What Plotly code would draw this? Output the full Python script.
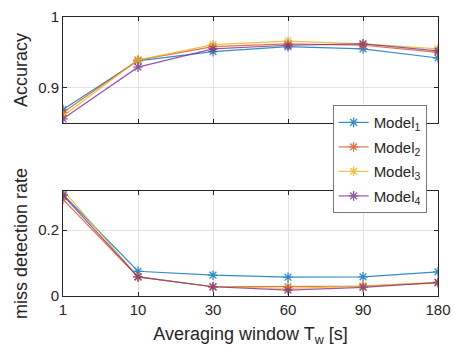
import plotly.graph_objects as go

windows = ["1", "10", "30", "60", "90", "180"]
models = ["Model<sub>1</sub>", "Model<sub>2</sub>", "Model<sub>3</sub>", "Model<sub>4</sub>"]
colors = ["#0072BD", "#D95319", "#EDB120", "#7E2F8E"]

acc_m1 = [0.869, 0.938, 0.951, 0.958, 0.955, 0.942]
acc_m2 = [0.865, 0.939, 0.958, 0.962, 0.960, 0.950]
acc_m3 = [0.860, 0.939, 0.961, 0.966, 0.962, 0.955]
acc_m4 = [0.856, 0.929, 0.955, 0.960, 0.962, 0.952]

mdr_m1 = [0.308, 0.075, 0.063, 0.057, 0.058, 0.073]
mdr_m2 = [0.293, 0.058, 0.028, 0.028, 0.030, 0.040]
mdr_m3 = [0.321, 0.058, 0.028, 0.023, 0.030, 0.042]
mdr_m4 = [0.305, 0.058, 0.028, 0.018, 0.026, 0.041]

acc = [acc_m1, acc_m2, acc_m3, acc_m4]
mdr = [mdr_m1, mdr_m2, mdr_m3, mdr_m4]

xpos = list(range(len(windows)))
FONT = "Arial"

fig = go.Figure()
for i in range(4):
    mk = dict(symbol="asterisk", size=8, color=colors[i], line=dict(color=colors[i], width=1.3))
    fig.add_trace(go.Scatter(x=xpos, y=acc[i], mode="lines+markers", name=models[i],
                             legendgroup=f"g{i}",
                             line=dict(color=colors[i], width=1.2), marker=mk,
                             xaxis="x", yaxis="y", opacity=0.8))
for i in range(4):
    mk = dict(symbol="asterisk", size=8, color=colors[i], line=dict(color=colors[i], width=1.3))
    fig.add_trace(go.Scatter(x=xpos, y=mdr[i], mode="lines+markers", name=models[i],
                             legendgroup=f"g{i}",
                             line=dict(color=colors[i], width=1.2), marker=mk,
                             xaxis="x2", yaxis="y2", showlegend=False, opacity=0.8))

axcol = "#262626"
common = dict(showline=True, linecolor=axcol, linewidth=1, mirror="ticks", ticks="inside",
              ticklen=4, tickcolor=axcol, showgrid=True, gridcolor="#E3E3E3", gridwidth=1,
              zeroline=False, automargin=False,
              tickfont=dict(family=FONT, size=15, color=axcol))
tfont = dict(family=FONT, size=18, color=axcol)

fig.update_layout(
    width=455, height=347,
    margin=dict(l=63, r=17, t=17, b=51),
    paper_bgcolor="white", plot_bgcolor="white",
    font=dict(family=FONT, size=15, color=axcol),
    xaxis=dict(range=[0, 5], tickvals=xpos, ticktext=windows, showticklabels=False,
               anchor="y", domain=[0, 1], **common),
    yaxis=dict(range=[0.85, 1.0], tickvals=[0.9, 1.0], ticktext=["0.9", "1"],
               domain=[0.62, 1.0], anchor="x",
               title=dict(text="Accuracy", font=tfont, standoff=5), **common),
    xaxis2=dict(range=[0, 5], tickvals=xpos, ticktext=windows, anchor="y2", domain=[0, 1],
                title=dict(text="Averaging window T<sub>w</sub> [s]", font=tfont, standoff=10),
                **common),
    yaxis2=dict(range=[0, 0.318], tickvals=[0, 0.2], ticktext=["0", "0.2"],
                domain=[0, 0.376], anchor="x2",
                title=dict(text="miss detection rate", font=tfont, standoff=5), **common),
    legend=dict(x=0.719, y=0.684, xanchor="left", yanchor="top", bgcolor="white",
                bordercolor="#7a7a7a", borderwidth=1, font=dict(family=FONT, size=15, color=axcol),
                tracegroupgap=2, itemwidth=30),
    showlegend=True,
)

fig.write_html("out.html", config={"displayModeBar": False},
               post_script="document.body.style.margin='0';document.body.style.overflow='hidden';")
